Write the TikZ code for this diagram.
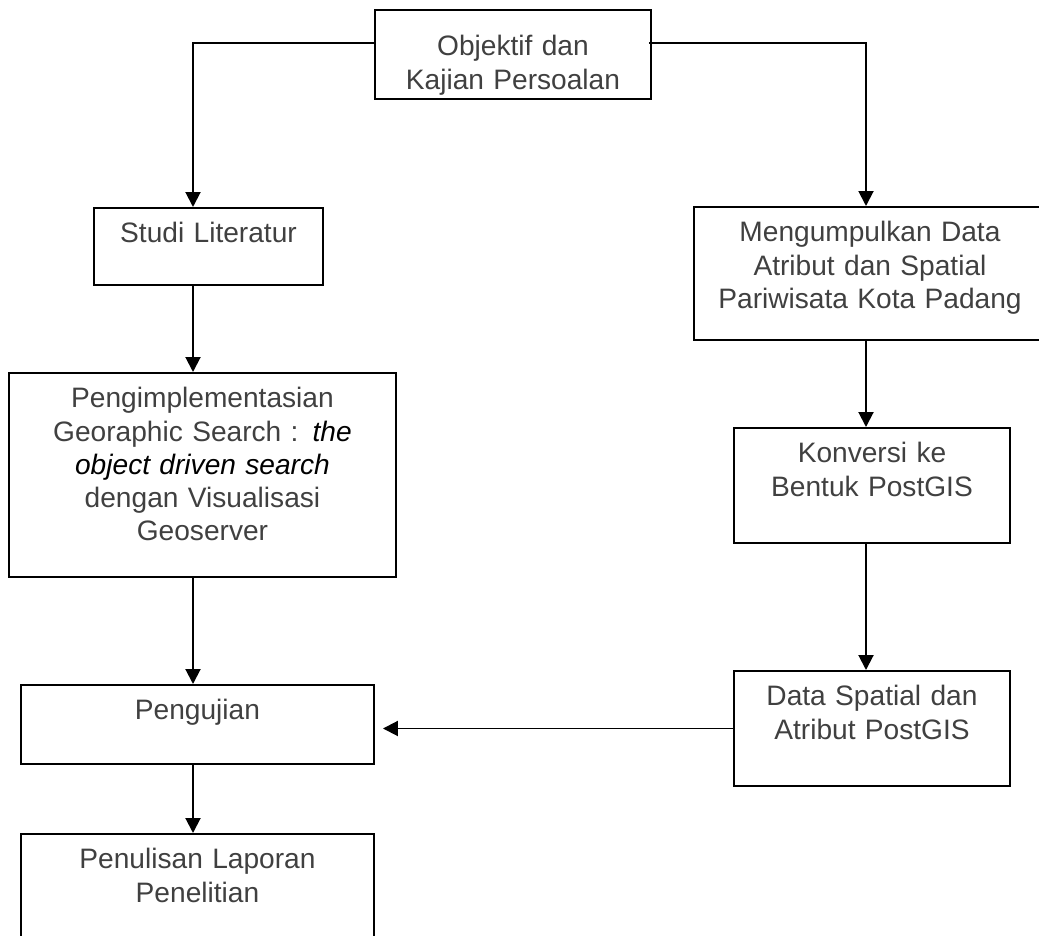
\documentclass[tikz,border=0pt]{standalone}
\usepackage{fontspec}
\setmainfont{Liberation Sans}
\usepackage{tikz}
\usetikzlibrary{arrows.meta}
\definecolor{teks}{HTML}{404040}

\begin{document}
\begin{tikzpicture}[>={Triangle[width=0.375cm, length=0.375cm]}, line width=1.4pt,
  kotak/.style={draw, anchor=north west, align=center, inner sep=0pt, text height=0.875cm, text=teks, font=\fontsize{20pt}{23.5pt}\selectfont}]
\useasboundingbox (0,0) rectangle (25.975,-23.375);
\clip (0,0) rectangle (25.975,-23.375);
\coordinate (sumbu) at (4.825,0);
\coordinate (sumbukanan) at (21.65,0);
\node[kotak, text width=6.9cm, text height=1.15cm, text depth=1.075cm] (objektif) at (9.35,-0.225) {Objektif dan\\Kajian Persoalan};
\node[kotak, text width=5.725cm, text depth=1.05cm] (studi) at (2.325,-5.175) {Studi Literatur};
\node[kotak, text width=8.8cm, text depth=2.45cm] (kumpul) at (17.325,-5.15) {Mengumpulkan Data\\Atribut dan Spatial\\Pariwisata Kota Padang};
\node[kotak, text width=9.675cm, text depth=4.225cm] (implementasi) at (0.2,-9.3) {Pengimplementasian\\Georaphic Search : \textcolor{black}{\textit{the}}\\\textcolor{black}{\textit{object driven search}}\\dengan Visualisasi\\Geoserver};
\node[kotak, text width=6.9cm, text depth=2.0cm] (konversi) at (18.325,-10.675) {Konversi ke\\Bentuk PostGIS};
\node[kotak, text width=6.9cm, text depth=2.0cm] (dataps) at (18.325,-16.75) {Data Spatial dan\\Atribut PostGIS};
\node[kotak, text width=8.825cm, text depth=1.1cm] (uji) at (0.5,-17.1) {Pengujian};
\node[kotak, text width=8.825cm, text depth=1.925cm] (tulis) at (0.5,-20.825) {Penulisan Laporan\\Penelitian};
\draw [->] ([yshift=0.29cm]objektif.west) -| (sumbu |- studi.north);
\draw [->] ([xshift=-0.075cm, yshift=0.29cm]objektif.east) -| (sumbukanan |- kumpul.north);
\draw [->] (sumbu |- studi.south) -- (sumbu |- implementasi.north);
\draw [->] (sumbu |- implementasi.south) -- (sumbu |- uji.north);
\draw [->] (sumbu |- uji.south) -- (sumbu |- tulis.north);
\draw [->] (sumbukanan |- kumpul.south) -- (sumbukanan |- konversi.north);
\draw [->] (sumbukanan |- konversi.south) -- (sumbukanan |- dataps.north);
\draw [->] (dataps.west) -- ([xshift=0.2cm]uji.east |- dataps.west);
\end{tikzpicture}
\end{document}
